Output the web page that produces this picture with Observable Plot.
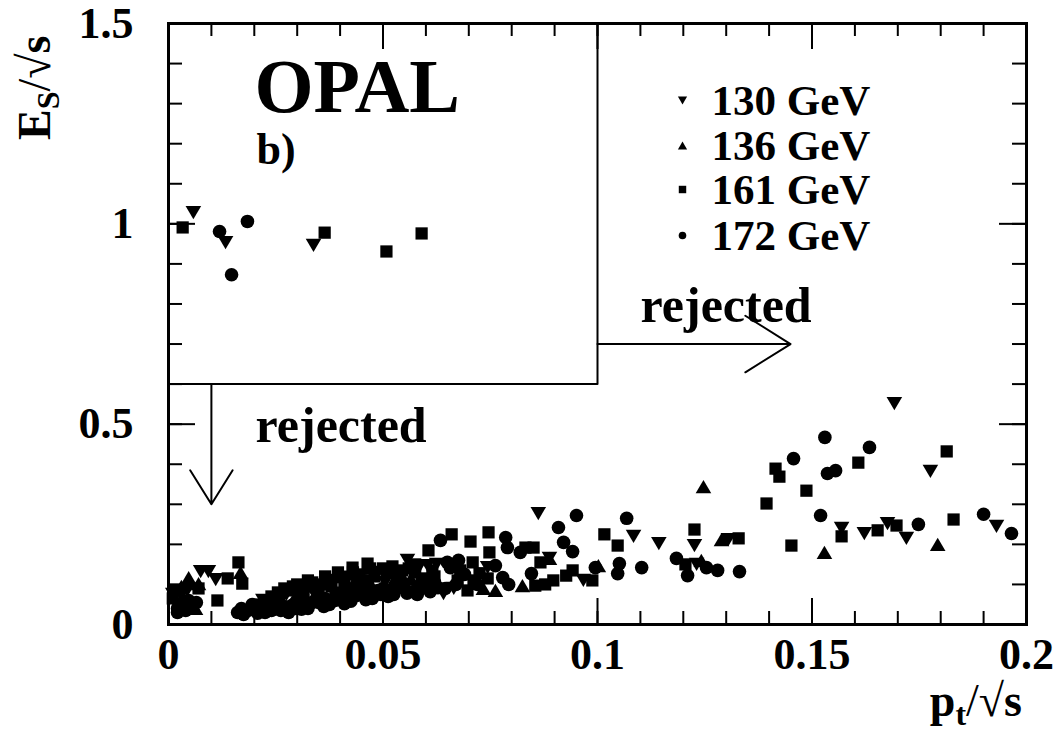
<!DOCTYPE html>
<html><head><meta charset="utf-8">
<script src="https://cdn.jsdelivr.net/npm/d3@7"></script>
<script src="https://cdn.jsdelivr.net/npm/@observablehq/plot@0.6"></script>
<style>body{margin:0;background:#fff}</style>
</head><body><div id="chart"></div>
<script>
const xTickLabels = [0, 0.05, 0.1, 0.15, 0.2];
const yTickLabels = [0, 0.5, 1, 1.5];
const legendLabels = ["130 GeV", "136 GeV", "161 GeV", "172 GeV"];

// 130 GeV (downward triangles)
const gev130 = [
  [0.0058,1.028],[0.0133,0.953],[0.0338,0.946],
  [0.0075,0.132],[0.0093,0.132],[0.011,0.112],[0.0016,0.085],[0.0044,0.085],[0.0030,0.072],[0.001,0.075],
  [0.022,0.06],[0.0275,0.075],[0.032,0.09],[0.037,0.1],[0.042,0.118],[0.0485,0.13],[0.0557,0.16],[0.0604,0.147],
  [0.0395,0.078],[0.0505,0.105],[0.026,0.055],[0.0335,0.085],[0.044,0.1],[0.053,0.11],
  [0.0305,0.065],[0.0385,0.11],[0.046,0.095],[0.0505,0.12],[0.0585,0.145],[0.0625,0.15],[0.0665,0.09],
  [0.0641,0.077],[0.0744,0.142],[0.0862,0.277],[0.0888,0.165],[0.0967,0.11],[0.1084,0.22],[0.1143,0.202],
  [0.1226,0.197],[0.1231,0.15],[0.1305,0.212],
  [0.1692,0.551],[0.1776,0.382],[0.1569,0.24],[0.1622,0.227],[0.1676,0.252],[0.172,0.215],[0.193,0.245]
];
// 136 GeV (upward triangles)
const gev136 = [
  [0.0047,0.117],[0.007,0.102],[0.0168,0.13],[0.0063,0.04],[0.003,0.095],
  [0.0245,0.05],[0.0298,0.068],[0.0345,0.072],[0.0415,0.09],[0.0472,0.1],[0.0545,0.12],[0.058,0.1],
  [0.0355,0.065],[0.0435,0.11],[0.052,0.1],[0.0565,0.115],
  [0.0734,0.09],[0.0762,0.085],[0.0825,0.097],[0.0888,0.165],[0.1002,0.147],[0.1247,0.344],[0.1289,0.212],[0.1242,0.16],
  [0.1529,0.18],[0.1793,0.2]
];
// 161 GeV (squares)
const gev161 = [
  [0.0033,0.991],[0.0364,0.978],[0.0508,0.931],[0.059,0.976],
  [0.0163,0.155],[0.0138,0.115],[0.0172,0.102],[0.0114,0.06],[0.001,0.065],[0.007,0.09],
  [0.027,0.09],[0.03,0.1],[0.0335,0.105],[0.0365,0.12],[0.0395,0.13],[0.0429,0.142],[0.0464,0.152],[0.0522,0.145],
  [0.0606,0.185],[0.035,0.085],[0.045,0.11],[0.0535,0.125],[0.0575,0.13],[0.0255,0.065],[0.0215,0.05],[0.062,0.12],
  [0.024,0.07],[0.0285,0.085],[0.0315,0.075],[0.038,0.095],[0.041,0.105],[0.0445,0.125],[0.048,0.12],[0.051,0.13],[0.056,0.14],[0.059,0.115],
  [0.0255,0.08],[0.029,0.095],[0.0325,0.11],[0.0355,0.1],[0.0405,0.118],[0.043,0.13],[0.047,0.14],[0.05,0.14],
  [0.0545,0.135],[0.0575,0.15],[0.0335,0.095],[0.0465,0.11],[0.0615,0.135],[0.068,0.135],[0.0725,0.128],
  [0.066,0.225],[0.0704,0.207],[0.0746,0.23],[0.0748,0.18],[0.0674,0.11],[0.0709,0.155],[0.0711,0.11],[0.0697,0.085],
  [0.0851,0.192],[0.0832,0.192],[0.0867,0.155],[0.0855,0.097],[0.0878,0.1],[0.0897,0.11],[0.0927,0.122],[0.0942,0.135],
  [0.0988,0.11],[0.0744,0.115],[0.1016,0.225],[0.1047,0.197],[0.1226,0.237],[0.1205,0.15],[0.1329,0.215],
  [0.1814,0.432],[0.1415,0.389],[0.1424,0.369],[0.1608,0.404],[0.1487,0.334],[0.1394,0.302],[0.1452,0.197],
  [0.1569,0.22],[0.1653,0.235],[0.1697,0.247],[0.183,0.262]
];
// 172 GeV (circles)
const gev172 = [
  [0.0119,0.981],[0.0184,1.006],[0.0147,0.873],
  [0.0021,0.030],[0.0033,0.055],[0.0047,0.060],[0.0021,0.040],[0.0055,0.045],[0.0025,0.05],[0.004,0.035],[0.0065,0.055],
  [0.0161,0.030],[0.0185,0.035],[0.0208,0.028],[0.0232,0.042],[0.0262,0.035],[0.0288,0.048],[0.031,0.038],
  [0.0335,0.055],[0.0362,0.045],[0.0388,0.06],[0.041,0.052],[0.0437,0.072],[0.046,0.062],[0.0488,0.085],
  [0.0512,0.07],[0.0533,0.095],[0.0556,0.078],[0.0583,0.088],[0.0605,0.11],[0.0628,0.092],
  [0.017,0.04],[0.0195,0.05],[0.0225,0.03],[0.025,0.045],[0.028,0.03],[0.0298,0.058],[0.0325,0.04],[0.0345,0.065],
  [0.0375,0.05],[0.04,0.07],[0.0425,0.058],[0.045,0.08],[0.0475,0.065],[0.05,0.09],[0.0525,0.075],[0.0548,0.1],
  [0.057,0.082],[0.0595,0.095],[0.062,0.105],
  [0.0175,0.025],[0.0215,0.04],[0.024,0.035],[0.027,0.045],[0.0295,0.04],[0.032,0.05],[0.035,0.055],[0.0365,0.065],
  [0.039,0.075],[0.0415,0.08],[0.0435,0.085],[0.0465,0.075],[0.0495,0.075],[0.052,0.085],[0.055,0.09],[0.058,0.075],
  [0.061,0.082],[0.0645,0.09],[0.067,0.1],[0.069,0.125],[0.072,0.1],
  [0.0634,0.210],[0.065,0.155],[0.0676,0.16],[0.0657,0.142],[0.0762,0.147],[0.0779,0.117],[0.0793,0.100],
  [0.0786,0.217],[0.079,0.192],[0.082,0.18],[0.0921,0.205],[0.0942,0.182],[0.0909,0.242],[0.0951,0.272],
  [0.0846,0.127],[0.0995,0.142],[0.1068,0.265],[0.1051,0.152],[0.1047,0.127],[0.1103,0.142],[0.1184,0.165],
  [0.121,0.122],[0.1254,0.142],[0.128,0.135],[0.1331,0.132],
  [0.153,0.467],[0.1634,0.442],[0.1457,0.414],[0.1536,0.377],[0.1555,0.384],[0.152,0.272],[0.1748,0.25],
  [0.19,0.275],[0.1965,0.227]
];

// cut region and arrows
const cutX = [0, 0.1, 0.1];
const cutY = [0.6, 0.6, 1.5];
const arrows = [
  {x1: 0.1, y1: 0.7, x2: 0.145, y2: 0.7},
  {x1: 0.01, y1: 0.6, x2: 0.01, y2: 0.3}
];

const FONT = '"Liberation Serif","Times New Roman",Times,serif';
const W = 1058, H = 734, mL = 168, mT = 23, mR = 32, mB = 110;
const iW = W - mL - mR, iH = H - mT - mB;

const triDown = {draw(ctx, size) { const s = Math.sqrt(size / Math.PI);
  ctx.moveTo(-s, -0.85 * s); ctx.lineTo(s, -0.85 * s); ctx.lineTo(0, 0.85 * s); ctx.closePath(); }};
const triUp = {draw(ctx, size) { const s = Math.sqrt(size / Math.PI);
  ctx.moveTo(0, -0.85 * s); ctx.lineTo(s, 0.85 * s); ctx.lineTo(-s, 0.85 * s); ctx.closePath(); }};

const xMinor = d3.range(0, 21).map(i => i / 100);
const xMajor = d3.range(0, 5).map(i => i * 0.05);
const yMinor = d3.range(0, 16).map(i => i / 10);
const yMajor = d3.range(0, 4).map(i => i * 0.5);

const series = [
  {data: gev130, symbol: triDown, r: 7.8},
  {data: gev136, symbol: triUp, r: 7.8},
  {data: gev161, symbol: "square", r: 6.9},
  {data: gev172, symbol: "circle", r: 6.8}
];
const legendSym = [
  {symbol: triDown, r: 4.6},
  {symbol: triUp, r: 4.6},
  {symbol: "square", r: 4.2},
  {symbol: "circle", r: 3.8}
];
const legendDy = [77, 122, 166, 212];

const textStyle = {fontFamily: FONT, fontWeight: "bold", fill: "black"};

const marks = [];
// ticks
marks.push(Plot.tickX(xMinor, {x: d => d, insetTop: iH - 13, strokeWidth: 2}));
marks.push(Plot.tickX(xMajor, {x: d => d, insetTop: iH - 26, strokeWidth: 2}));
marks.push(Plot.tickX(xMinor, {x: d => d, insetBottom: iH - 13, strokeWidth: 2}));
marks.push(Plot.tickX(xMajor, {x: d => d, insetBottom: iH - 26, strokeWidth: 2}));
marks.push(Plot.tickY(yMinor, {y: d => d, insetRight: iW - 14, strokeWidth: 2}));
marks.push(Plot.tickY(yMajor, {y: d => d, insetRight: iW - 27, strokeWidth: 2}));
marks.push(Plot.tickY(yMinor, {y: d => d, insetLeft: iW - 14, strokeWidth: 2}));
marks.push(Plot.tickY(yMajor, {y: d => d, insetLeft: iW - 27, strokeWidth: 2}));
marks.push(Plot.frame({stroke: "black", strokeWidth: 3}));
// tick labels
marks.push(Plot.text(xTickLabels, {x: d => d, frameAnchor: "bottom", dy: 44, lineAnchor: "bottom",
  text: d => String(d), fontSize: 44, ...textStyle}));
marks.push(Plot.text(yTickLabels, {y: d => d, frameAnchor: "left", dx: -35, textAnchor: "end",
  text: d => String(d), fontSize: 44, ...textStyle}));
// cut box and arrows
marks.push(Plot.line(cutX.map((x, i) => [x, cutY[i]]), {x: d => d[0], y: d => d[1], stroke: "black", strokeWidth: 2}));
marks.push(Plot.arrow(arrows, {x1: "x1", y1: "y1", x2: "x2", y2: "y2", stroke: "black", strokeWidth: 2,
  headLength: 40, headAngle: 64}));
// points
for (const s of series) {
  marks.push(Plot.dot(s.data, {x: d => d[0], y: d => d[1], symbol: s.symbol, r: s.r, fill: "black", stroke: "none"}));
}
// annotations
marks.push(Plot.text(["OPAL"], {frameAnchor: "top-left", dx: 86, dy: 88, lineAnchor: "bottom", textAnchor: "start",
  text: d => d, fontSize: 76, ...textStyle}));
marks.push(Plot.text(["b)"], {frameAnchor: "top-left", dx: 88, dy: 140, lineAnchor: "bottom", textAnchor: "start",
  text: d => d, fontSize: 44, ...textStyle}));
marks.push(Plot.text(["rejected"], {frameAnchor: "top-left", dx: 87, dy: 418, lineAnchor: "bottom", textAnchor: "start",
  text: d => d, fontSize: 50, ...textStyle}));
marks.push(Plot.text(["rejected"], {frameAnchor: "top-left", dx: 472, dy: 298, lineAnchor: "bottom", textAnchor: "start",
  text: d => d, fontSize: 50, ...textStyle}));
// legend
legendLabels.forEach((lab, i) => {
  marks.push(Plot.dot([lab], {frameAnchor: "top-left", dx: 514, dy: legendDy[i], symbol: legendSym[i].symbol,
    r: legendSym[i].r, fill: "black", stroke: "none"}));
  marks.push(Plot.text([lab], {frameAnchor: "top-left", dx: 543, dy: legendDy[i] + 14, lineAnchor: "bottom",
    textAnchor: "start", text: d => d, fontSize: 43, ...textStyle}));
});

const svg = Plot.plot({
  width: W, height: H,
  marginLeft: mL, marginTop: mT, marginRight: mR, marginBottom: mB,
  x: {domain: [0, 0.2], axis: null},
  y: {domain: [0, 1.5], axis: null},
  style: {background: "white", overflow: "visible"},
  marks
});

// axis titles with subscripts
const sel = d3.select(svg);
const yt = sel.append("text")
  .attr("transform", "translate(50,140) rotate(-90)").attr("text-anchor", "start")
  .attr("font-family", FONT).attr("font-weight", "bold").attr("font-size", 46).attr("fill", "black");
yt.append("tspan").text("E");
yt.append("tspan").attr("font-size", 32).attr("dy", 9).text("S");
yt.append("tspan").attr("dy", -9).attr("font-weight", "normal").text("/");
yt.append("tspan").text("√s");

const xt = sel.append("text")
  .attr("x", 1022).attr("y", 716).attr("text-anchor", "end")
  .attr("font-family", FONT).attr("font-weight", "bold").attr("font-size", 46).attr("fill", "black");
xt.append("tspan").text("p");
xt.append("tspan").attr("font-size", 32).attr("dy", 9).text("t");
xt.append("tspan").attr("dy", -9).attr("font-weight", "normal").text("/");
xt.append("tspan").text("√s");

document.getElementById("chart").appendChild(svg);
</script>
</body></html>
